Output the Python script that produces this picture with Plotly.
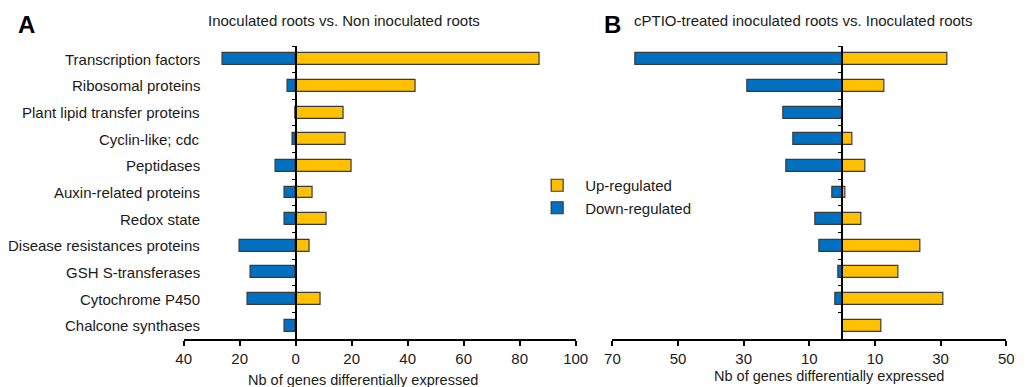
import plotly.graph_objects as go

# Gene categories (top to bottom)
categories = [
    "Transcription factors", "Ribosomal proteins", "Plant lipid transfer proteins",
    "Cyclin-like; cdc", "Peptidases", "Auxin-related proteins", "Redox state",
    "Disease resistances proteins", "GSH S-transferases", "Cytochrome P450",
    "Chalcone synthases",
]

# Panel A: inoculated vs non-inoculated roots
inoc_up = [87, 43, 17, 18, 20, 6, 11, 5, 0, 9, 0]
inoc_down = [26, 3, 0, 1, 7, 4, 4, 20, 16, 17, 4]

# Panel B: cPTIO-treated inoculated vs inoculated roots
cptio_up = [32, 13, 0, 3, 7, 1, 6, 24, 17, 31, 12]
cptio_down = [63, 29, 18, 15, 17, 3, 8, 7, 1, 2, 0]

left_ticks = [-40, -20, 0, 20, 40, 60, 80, 100]
right_ticks = [-70, -50, -30, -10, 10, 30, 50]

W, H = 1031, 387
UP_COLOR = "#FFC000"
DOWN_COLOR = "#0070C0"
EDGE = "#3a3a3a"
FONT = "Liberation Sans, Arial, sans-serif"
TXT = "#1a1a1a"


def px(x):
    return x / W


def py(y):
    return 1 - y / H


left_dom = [px(179.3), px(579.5)]
right_dom = [px(617), px(1019)]
left_range = [-40, 100]
right_range = [-70, 50]
y_dom = [py(339), py(46)]
rows = list(range(len(categories)))


def zero_pos(dom, rng):
    return dom[0] + (0 - rng[0]) / (rng[1] - rng[0]) * (dom[1] - dom[0])


fig = go.Figure()


def add_bars(up, down, xa, ya, show):
    fig.add_trace(go.Bar(
        x=up, y=rows, orientation="h", xaxis=xa, yaxis=ya, width=0.45,
        name="Up-regulated", legendgroup="up", showlegend=show,
        marker=dict(color=UP_COLOR, line=dict(color=EDGE, width=1.2)),
    ))
    fig.add_trace(go.Bar(
        x=[-v for v in down], y=rows, orientation="h", xaxis=xa, yaxis=ya, width=0.45,
        name="Down-regulated", legendgroup="down", showlegend=show,
        marker=dict(color=DOWN_COLOR, line=dict(color=EDGE, width=1.2)),
    ))


add_bars(inoc_up, inoc_down, "x", "y", True)
add_bars(cptio_up, cptio_down, "x2", "y2", False)

xcommon = dict(
    showline=True, linecolor="black", linewidth=1.5, ticks="outside", ticklen=5,
    tickwidth=1.5, tickcolor="black", showgrid=False, zeroline=False,
    tickfont=dict(family=FONT, size=15, color=TXT), ticklabelstandoff=0,
)
ycommon = dict(
    range=[10.5, -0.5], domain=y_dom, showgrid=False, zeroline=False,
    showline=True, linecolor="black", linewidth=1.5, ticks="outside",
    ticklen=3, tickwidth=1.2, tickcolor="black", showticklabels=False,
    tickvals=[r - 0.5 for r in rows], anchor="free",
)

fig.update_layout(
    width=W, height=H, margin=dict(l=0, r=0, t=0, b=0),
    paper_bgcolor="white", plot_bgcolor="rgba(0,0,0,0)",
    barmode="overlay", bargap=0,
    font=dict(family=FONT, color=TXT),
    xaxis=dict(domain=left_dom, range=left_range, anchor="y",
               tickvals=left_ticks, ticktext=[str(abs(v)) for v in left_ticks], **xcommon),
    xaxis2=dict(domain=right_dom, range=right_range, anchor="y2",
                tickvals=right_ticks, ticktext=[str(abs(v)) for v in right_ticks], **xcommon),
    yaxis=dict(position=zero_pos(left_dom, left_range), **ycommon),
    yaxis2=dict(position=zero_pos(right_dom, right_range), **ycommon),
    legend=dict(
        x=px(532), y=py(169), xanchor="left", yanchor="top",
        font=dict(family=FONT, size=15, color=TXT),
        traceorder="grouped", tracegroupgap=0, itemwidth=46,
        bgcolor="rgba(0,0,0,0)",
    ),
)

annotations = []
# category labels
for r, name in zip(rows, categories):
    annotations.append(dict(
        text=name, x=px(198.5), xref="paper", y=r, yref="y",
        xanchor="right", yanchor="middle", showarrow=False,
        font=dict(family=FONT, size=15, color=TXT),
    ))

for text, x, y, size, bold in [
    ("A", 19, 24, 24, True),
    ("B", 617, 24, 24, True),
    ("Inoculated roots vs. Non inoculated roots", 343, 21, 15, False),
    ("cPTIO-treated inoculated roots vs. Inoculated roots", 812, 21, 15, False),
    ("Nb of genes differentially expressed", 362, 380, 14.5, False),
    ("Nb of genes differentially expressed", 838, 376, 14.5, False),
]:
    annotations.append(dict(
        text=f"<b>{text}</b>" if bold else text, x=px(x), y=py(y),
        xref="paper", yref="paper", xanchor="center", yanchor="middle",
        showarrow=False, font=dict(family=FONT, size=size, color="black" if bold else TXT),
    ))

fig.update_layout(annotations=annotations)

fig.write_html("out.html")
